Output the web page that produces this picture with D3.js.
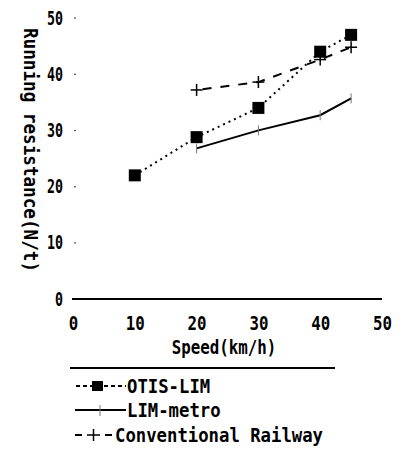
<!DOCTYPE html>
<html>
<head>
<meta charset="utf-8">
<script src="https://cdn.jsdelivr.net/npm/d3@7"></script>
<style>
  body { margin: 0; background: #fff; }
  text { font-family: "DejaVu Sans Mono", "Liberation Mono", monospace; fill: #000; font-weight: bold; }
</style>
</head>
<body>
<script>
// chart size
const width = 402;
const height = 450;

// data
const otisSpeeds = [10, 20, 30, 40, 45];
const otisLim = [22, 28.8, 34, 44, 47];
const metroSpeeds = [20, 30, 40, 45];
const limMetro = [26.8, 30, 32.7, 35.7];
const railSpeeds = [20, 30, 40, 45];
const conventional = [37.2, 38.6, 42.6, 44.8];
const xTicks = [0, 10, 20, 30, 40, 50];
const yTicks = [0, 10, 20, 30, 40, 50];
const legendLabels = ["OTIS-LIM", "LIM-metro", "Conventional Railway"];
const xTitle = "Speed(km/h)";
const yTitle = "Running resistance(N/t)";

const svg = d3.select("body").append("svg")
  .attr("width", width)
  .attr("height", height);

const x = d3.scaleLinear().domain([0, 50]).range([73, 382]);
const y = d3.scaleLinear().domain([0, 50]).range([299, 18]);

// x axis
const xAxis = svg.append("g")
  .attr("transform", "translate(0,299)")
  .call(d3.axisBottom(x).tickValues(xTicks).tickSize(0).tickPadding(17).tickSizeOuter(0));
xAxis.select(".domain").remove();
xAxis.selectAll("text")
  .style("font-size", "20px")
  .attr("textLength", d => String(d).length * 9.5)
  .attr("lengthAdjust", "spacingAndGlyphs");

// baseline
svg.append("line")
  .attr("x1", 72).attr("x2", 382)
  .attr("y1", y(0)).attr("y2", y(0))
  .attr("stroke", "#000").attr("stroke-width", 2);

// y axis
const yAxis = svg.append("g")
  .attr("transform", "translate(75,0)")
  .call(d3.axisLeft(y).tickValues(yTicks).tickSize(0).tickPadding(12));
yAxis.select(".domain").remove();
yAxis.selectAll("text")
  .style("font-size", "19px")
  .attr("textLength", d => String(d).length * 8)
  .attr("lengthAdjust", "spacingAndGlyphs");
// small tick dots
svg.selectAll(".ydot")
  .data(yTicks.filter(d => d > 0))
  .enter().append("rect")
  .attr("class", "ydot")
  .attr("x", 74).attr("y", d => y(d) - 0.5)
  .attr("width", 2).attr("height", 1.2)
  .attr("fill", "#555");

// axis titles
svg.append("text")
  .attr("x", 224).attr("y", 354)
  .attr("text-anchor", "middle")
  .style("font-size", "20px")
  .attr("textLength", xTitle.length * 9.5)
  .attr("lengthAdjust", "spacingAndGlyphs")
  .text(xTitle);

svg.append("text")
  .attr("transform", "translate(24,150) rotate(90)")
  .attr("text-anchor", "middle")
  .style("font-size", "20px")
  .attr("textLength", 244)
  .attr("lengthAdjust", "spacingAndGlyphs")
  .text(yTitle);

// series
const otisData = otisSpeeds.map((s, i) => [s, otisLim[i]]);
const metroData = metroSpeeds.map((s, i) => [s, limMetro[i]]);
const railData = railSpeeds.map((s, i) => [s, conventional[i]]);
const line = d3.line().x(d => x(d[0])).y(d => y(d[1]));

svg.append("path")
  .attr("d", line(railData))
  .attr("fill", "none").attr("stroke", "#000")
  .attr("stroke-width", 2).attr("stroke-dasharray", "9,9")
  .attr("stroke-dashoffset", -6);

svg.append("path")
  .attr("d", line(metroData))
  .attr("fill", "none").attr("stroke", "#000")
  .attr("stroke-width", 2);

svg.append("path")
  .attr("d", line(otisData))
  .attr("fill", "none").attr("stroke", "#000")
  .attr("stroke-width", 2).attr("stroke-dasharray", "2,4");

// small ticks on LIM-metro points
svg.selectAll(".mtick")
  .data(metroData)
  .enter().append("line")
  .attr("class", "mtick")
  .attr("x1", d => x(d[0])).attr("x2", d => x(d[0]))
  .attr("y1", d => y(d[1]) - 5).attr("y2", d => y(d[1]) + 5)
  .attr("stroke", "#777").attr("stroke-width", 1);

// crosses
const cross = svg.selectAll(".cross")
  .data(railData)
  .enter().append("g")
  .attr("class", "cross")
  .attr("transform", d => `translate(${x(d[0])},${y(d[1])})`);
cross.append("line").attr("x1", -6).attr("x2", 6).attr("stroke", "#000").attr("stroke-width", 1.5);
cross.append("line").attr("y1", -6).attr("y2", 6).attr("stroke", "#000").attr("stroke-width", 1.5);

// squares
svg.selectAll(".sq")
  .data(otisData)
  .enter().append("rect")
  .attr("class", "sq")
  .attr("x", d => x(d[0]) - 6).attr("y", d => y(d[1]) - 6)
  .attr("width", 12).attr("height", 12)
  .attr("fill", "#000");

// legend
svg.append("line")
  .attr("x1", 70).attr("x2", 335)
  .attr("y1", 368).attr("y2", 368)
  .attr("stroke", "#000").attr("stroke-width", 2);

const legendY = [386, 410, 435];
const legendTextX = [127, 127, 115];

// OTIS symbol
svg.append("line").attr("x1", 76).attr("x2", 126).attr("y1", legendY[0]).attr("y2", legendY[0])
  .attr("stroke", "#000").attr("stroke-width", 2).attr("stroke-dasharray", "4,3");
svg.append("rect").attr("x", 92).attr("y", legendY[0] - 5).attr("width", 11).attr("height", 10).attr("fill", "#000");
// LIM-metro symbol
svg.append("line").attr("x1", 75).attr("x2", 126).attr("y1", legendY[1]).attr("y2", legendY[1])
  .attr("stroke", "#000").attr("stroke-width", 2);
svg.append("line").attr("x1", 100).attr("x2", 100).attr("y1", legendY[1] - 5).attr("y2", legendY[1] + 6)
  .attr("stroke", "#777").attr("stroke-width", 1);
// Conventional symbol
svg.append("line").attr("x1", 75).attr("x2", 82).attr("y1", legendY[2]).attr("y2", legendY[2])
  .attr("stroke", "#000").attr("stroke-width", 2);
svg.append("line").attr("x1", 105).attr("x2", 112).attr("y1", legendY[2]).attr("y2", legendY[2])
  .attr("stroke", "#000").attr("stroke-width", 2);
svg.append("line").attr("x1", 87).attr("x2", 100).attr("y1", legendY[2]).attr("y2", legendY[2])
  .attr("stroke", "#000").attr("stroke-width", 1.5);
svg.append("line").attr("x1", 93.5).attr("x2", 93.5).attr("y1", legendY[2] - 6).attr("y2", legendY[2] + 6)
  .attr("stroke", "#000").attr("stroke-width", 1.5);

svg.selectAll(".leg")
  .data(legendLabels)
  .enter().append("text")
  .attr("class", "leg")
  .attr("x", (d, i) => legendTextX[i])
  .attr("y", (d, i) => legendY[i] + 7)
  .style("font-size", "20px")
  .attr("textLength", d => d.length * 10.4)
  .attr("lengthAdjust", "spacingAndGlyphs")
  .text(d => d);
</script>
</body>
</html>
